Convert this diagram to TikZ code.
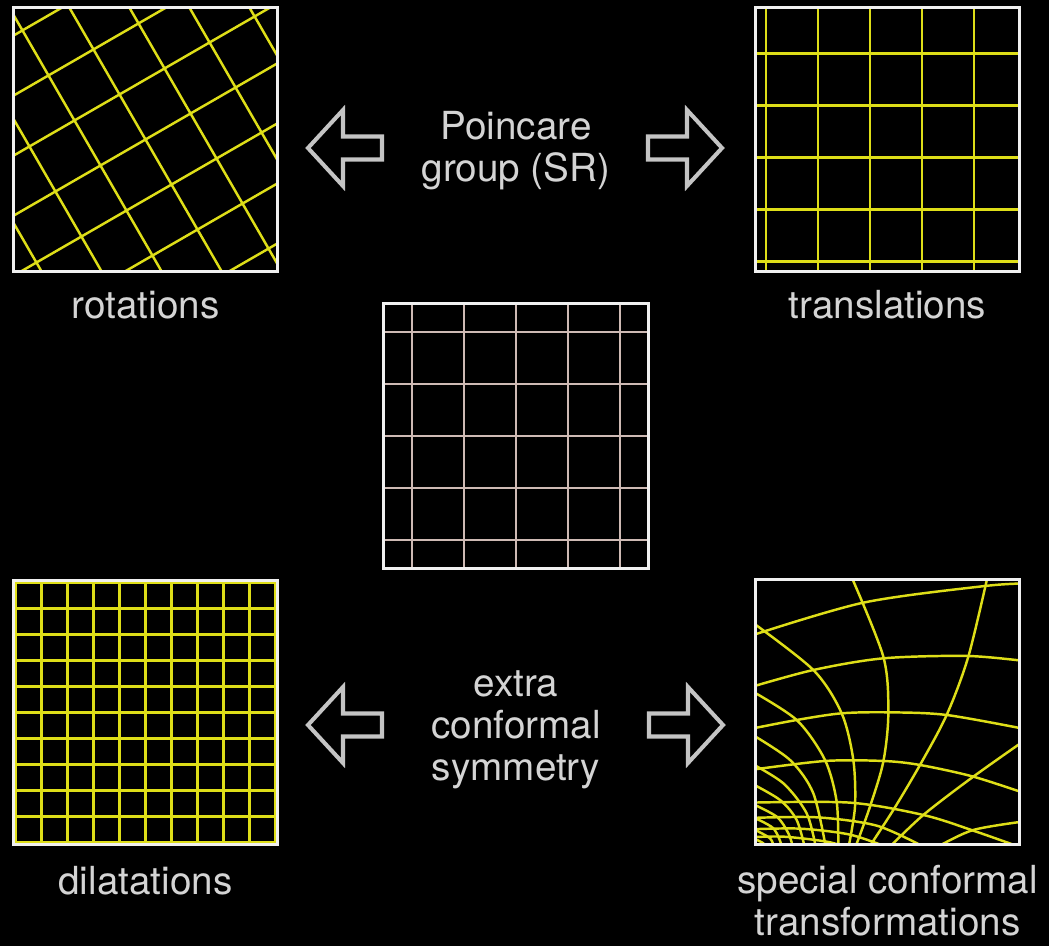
\documentclass[tikz,border=0pt]{standalone}
\usepackage{fontspec}
\setmainfont{TeX Gyre Heros}
\usetikzlibrary{positioning}
\definecolor{slidegray}{RGB}{212,212,212}
\definecolor{arrowgray}{RGB}{196,196,196}
\definecolor{gridyellow}{RGB}{222,222,24}
\definecolor{refpink}{RGB}{206,186,180}
\tikzset{
  panel/.style={draw=white!94!black, line width=1.7pt, minimum size=5.3cm, inner sep=0pt},
  gridline/.style={draw=gridyellow, line width=1.4pt},
  refline/.style={draw=refpink, line width=1.3pt},
  caption/.style={text=slidegray, font=\fontsize{22}{24}\selectfont, inner sep=0pt},
  arrowline/.style={draw=arrowgray, line width=2.3pt, fill=black},
  fatarrow/.pic={\draw[arrowline] (-37,-11.5) -- (2,-11.5) -- (2,-38) -- (37,0) -- (2,38) -- (2,11.5) -- (-37,11.5) -- cycle;}
}

\begin{document}
\begin{tikzpicture}[x=0.02cm, y=-0.02cm]
  \useasboundingbox (0,0) rectangle (1049,946);
  \fill[black] (0,0) rectangle (1049,946);

  % rotations
  \begin{scope}
    \clip (13,7) rectangle (278,272);
    \begin{scope}[shift={(145.5,139.5)}, rotate=30]
      \foreach \k in {-3,...,3} {
        \draw[gridline] (52*\k,-200) -- (52*\k,200);
        \draw[gridline] (-200,52*\k) -- (200,52*\k);
      }
    \end{scope}
  \end{scope}

  % translations
  \begin{scope}
    \clip (755,7) rectangle (1020,272);
    \foreach \k in {-3,...,3} {
      \draw[gridline] (870+52*\k,0) -- (870+52*\k,280);
      \draw[gridline] (745,157.5+52*\k) -- (1030,157.5+52*\k);
    }
  \end{scope}

  % reference grid
  \foreach \k in {-2,...,2} {
    \draw[refline] (516+52*\k,304) -- (516+52*\k,568);
    \draw[refline] (384,436+52*\k) -- (648,436+52*\k);
  }

  % dilatations
  \foreach \k in {-5,...,5} {
    \draw[gridline] (145.5+26*\k,579) -- (145.5+26*\k,846);
    \draw[gridline] (13,712.5+26*\k) -- (278,712.5+26*\k);
  }

  % special conformal
  \begin{scope}
    \clip (755,579) rectangle (1020,845);
    \begin{scope}[shift={(750,580)}, scale=0.3333]
      % "horizontal" curves
      \draw[gridline] plot[smooth] coordinates {(0,168) (340,68) (705,18) (840,10)};
      \draw[gridline] plot[smooth] coordinates {(0,322) (190,270) (400,235) (655,228) (840,245)};
      \draw[gridline] plot[smooth] coordinates {(0,447) (140,420) (275,400) (415,397) (590,405) (840,450)};
      \draw[gridline] plot[smooth] coordinates {(0,570) (225,543) (400,543) (510,555) (670,590) (840,645)};
      \draw[gridline] plot[smooth] coordinates {(0,668) (300,668) (520,705) (670,752) (840,812)};
      \draw[gridline] plot[smooth] coordinates {(0,714) (200,712) (380,737) (520,800)};
      \draw[gridline] plot[smooth] coordinates {(0,748) (150,746) (300,764) (420,805)};
      \draw[gridline] plot[smooth] coordinates {(0,772) (100,770) (230,785) (300,805)};
      % "vertical" curves
      \draw[gridline] plot[smooth] coordinates {(300,-20) (400,230) (415,400) (400,545) (360,680) (315,805)};
      \draw[gridline] plot[smooth] coordinates {(715,-20) (655,230) (590,405) (510,555) (430,690) (355,805)};
      \draw[gridline] plot[smooth] coordinates {(840,470) (670,590) (520,705) (415,805)};
      \draw[gridline] plot[smooth] coordinates {(840,722) (670,750) (555,805)};
      \draw[gridline] plot[smooth] coordinates {(0,122) (190,270) (275,400) (310,540) (315,680) (295,805)};
      \draw[gridline] plot[smooth] coordinates {(0,330) (140,420) (225,540) (260,665) (265,805)};
      \draw[gridline] plot[smooth] coordinates {(0,460) (120,540) (190,640) (228,805)};
      \draw[gridline] plot[smooth] coordinates {(0,548) (100,610) (170,700) (198,805)};
      \draw[gridline] plot[smooth] coordinates {(0,608) (90,660) (140,720) (165,805)};
      \draw[gridline] plot[smooth] coordinates {(0,668) (80,710) (115,760) (130,805)};
      \draw[gridline] plot[smooth] coordinates {(0,708) (70,745) (98,805)};
      \draw[gridline] plot[smooth] coordinates {(0,742) (60,775) (72,805)};
      \draw[gridline] plot[smooth] coordinates {(0,770) (40,790) (48,805)};
    \end{scope}
  \end{scope}

  % frames
  \node[panel] (rot) at (145.5,139.5) {};
  \node[panel] (trans) at (887.5,139.5) {};
  \node[panel] (ref) at (516,436) {};
  \node[panel] (dil) at (145.5,712.5) {};
  \node[panel] (sct) at (887.5,712) {};

  % arrows
  \pic[xscale=-1] (arrtl) at (345,148) {fatarrow};
  \pic (arrtr) at (685,148) {fatarrow};
  \pic[xscale=-1] (arrbl) at (345,725) {fatarrow};
  \pic (arrbr) at (686,725) {fatarrow};

  % texts
  \node[caption, align=center] (poincare) at (516,151) {Poincare\\group (SR)};
  \node[caption, align=center] (extra) at (516,730) {extra\\conformal\\symmetry};
  \node[caption, anchor=base] (rotlbl) at (145.5,318) {rotations};
  \node[caption, anchor=base] (translbl) at (887.5,318) {translations};
  \node[caption, anchor=base] (dillbl) at (145.5,894) {dilatations};
  \node[caption, align=center] (sctlbl) at (887.5,901) {special conformal\\transformations};
\end{tikzpicture}
\end{document}
